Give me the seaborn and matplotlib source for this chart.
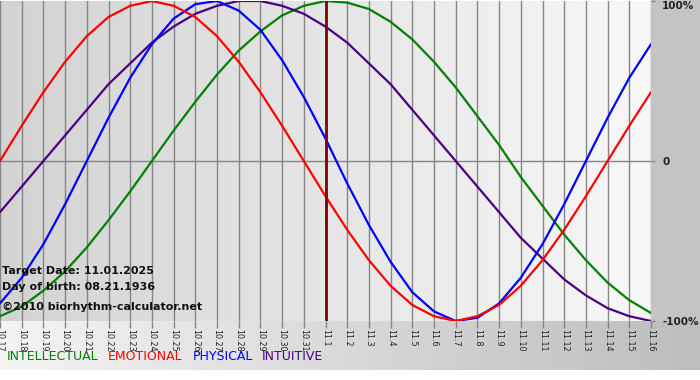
import numpy as np
import pandas as pd
import matplotlib
matplotlib.use("Agg")
import matplotlib.pyplot as plt
import seaborn as sns
from matplotlib.colors import LinearSegmentedColormap

# ---- data ----
dates = ["10.17", "10.18", "10.19", "10.20", "10.21", "10.22", "10.23", "10.24", "10.25",
         "10.26", "10.27", "10.28", "10.29", "10.30", "10.31", "11.1", "11.2", "11.3",
         "11.4", "11.5", "11.6", "11.7", "11.8", "11.9", "11.10", "11.11", "11.12",
         "11.13", "11.14", "11.15", "11.16"]
intellectual = [-0.97, -0.91, -0.81, -0.69, -0.54, -0.37, -0.19, 0.00, 0.19, 0.37, 0.54,
                0.69, 0.81, 0.91, 0.97, 1.00, 0.99, 0.95, 0.87, 0.76, 0.62, 0.46, 0.28,
                0.10, -0.10, -0.28, -0.46, -0.62, -0.76, -0.87, -0.95]
emotional = [0.00, 0.22, 0.43, 0.62, 0.78, 0.90, 0.97, 1.00, 0.97, 0.90, 0.78, 0.62, 0.43,
             0.22, 0.00, -0.22, -0.43, -0.62, -0.78, -0.90, -0.97, -1.00, -0.97, -0.90,
             -0.78, -0.62, -0.43, -0.22, 0.00, 0.22, 0.43]
physical = [-0.89, -0.73, -0.52, -0.27, 0.00, 0.27, 0.52, 0.73, 0.89, 0.98, 1.00, 0.94,
            0.82, 0.63, 0.40, 0.14, -0.14, -0.40, -0.63, -0.82, -0.94, -1.00, -0.98, -0.89,
            -0.73, -0.52, -0.27, 0.00, 0.27, 0.52, 0.73]
intuitive = [-0.32, -0.16, 0.00, 0.16, 0.32, 0.48, 0.61, 0.74, 0.84, 0.92, 0.97, 1.00, 1.00,
             0.97, 0.92, 0.84, 0.74, 0.61, 0.48, 0.32, 0.16, 0.00, -0.16, -0.32, -0.48,
             -0.61, -0.74, -0.84, -0.92, -0.97, -1.00]
target_label = "11.1"
y_ticks = [-1.0, 0.0, 1.0]
y_labels = ["-100%", "0", "100%"]
info_lines = ["Target Date: 11.01.2025", "Day of birth: 08.21.1936",
              "\u00a92010 biorhythm-calculator.net"]
legend_names = ["INTELLECTUAL", "EMOTIONAL", "PHYSICAL", "INTUITIVE"]

colors = {"INTELLECTUAL": "#008000", "EMOTIONAL": "#ff0000",
          "PHYSICAL": "#0000ff", "INTUITIVE": "#4b0082"}

x = np.arange(len(dates))
df = pd.DataFrame({
    "day": np.tile(x, 4),
    "value": intellectual + intuitive + physical + emotional,
    "series": (["INTELLECTUAL"] * len(x) + ["INTUITIVE"] * len(x)
               + ["PHYSICAL"] * len(x) + ["EMOTIONAL"] * len(x)),
})

sns.set_theme(style="white")
plt.rcParams["font.family"] = ["DejaVu Sans"]

W, H = 700, 380
fig = plt.figure(figsize=(7, 3.8), dpi=100, facecolor="white")

# background (figure pixel coords)
bg = fig.add_axes([0, 0, 1, 1], zorder=0)
bg.set_xlim(0, W)
bg.set_ylim(H, 0)
bg.axis("off")
cm_bottom = LinearSegmentedColormap.from_list("b", ["#f4f4f4", "#bdbdbd"])
grad = np.linspace(0, 1, 256).reshape(1, -1)
bg.imshow(grad, cmap=cm_bottom, extent=[0, W, 370, 321], aspect="auto")
bg.add_patch(plt.Rectangle((651, 0), W - 651, 321, color="#c4c4c4", lw=0))

# main axes
ax = fig.add_axes([0, (H - 321) / H, 651 / W, 320 / H], zorder=1)
ax.set_xlim(0, len(dates) - 1)
ax.set_ylim(-1.0, 1.0)
cm_plot = LinearSegmentedColormap.from_list("p", ["#d3d3d3", "#f8f8f8"])
ax.imshow(grad, cmap=cm_plot, extent=[0, len(dates) - 1, -1.0, 1.0],
          aspect="auto", zorder=0)

for xi in x:
    ax.axvline(xi, color="#858585", lw=1.0, zorder=1)
ax.axhline(0, color="#858585", lw=1.0, zorder=1)

for name in ["INTELLECTUAL", "INTUITIVE", "PHYSICAL", "EMOTIONAL"]:
    sub = df[df["series"] == name]
    sns.lineplot(data=sub, x="day", y="value", color=colors[name], lw=1.6,
                 ax=ax, legend=False, zorder=3)

ax.axvline(dates.index(target_label), color="#800000", lw=2.0, zorder=4)

for s in ax.spines.values():
    s.set_visible(False)
ax.set_xlabel("")
ax.set_ylabel("")
ax.set_xticks(x)
ax.set_xticklabels(dates, rotation=270, fontsize=5.8, color="#222222")
ax.tick_params(axis="x", bottom=True, length=5, width=1.0, color="#858585", pad=1)
ax.yaxis.tick_right()
ax.set_yticks(y_ticks)
ax.set_yticklabels(y_labels, fontsize=7.5, fontweight="bold", color="#222222")
ax.tick_params(axis="y", right=True, length=3, width=1.0, color="#858585", pad=5)
ax.get_yticklabels()[2].set_va("top")

# info text (positions in figure pixels)
for txt, yp in zip(info_lines, [271, 287, 307]):
    fig.text(2 / W, 1 - yp / H, txt, fontsize=8, fontweight="bold",
             color="#111111", va="center", ha="left", zorder=5)

# legend text
xs = [7, 108, 193, 262]
for name, xp in zip(legend_names, xs):
    fig.text(xp / W, 1 - 357 / H, name, color=colors[name], fontsize=9,
             va="center", ha="left")

fig.savefig("out.png", dpi=100, facecolor="white")
